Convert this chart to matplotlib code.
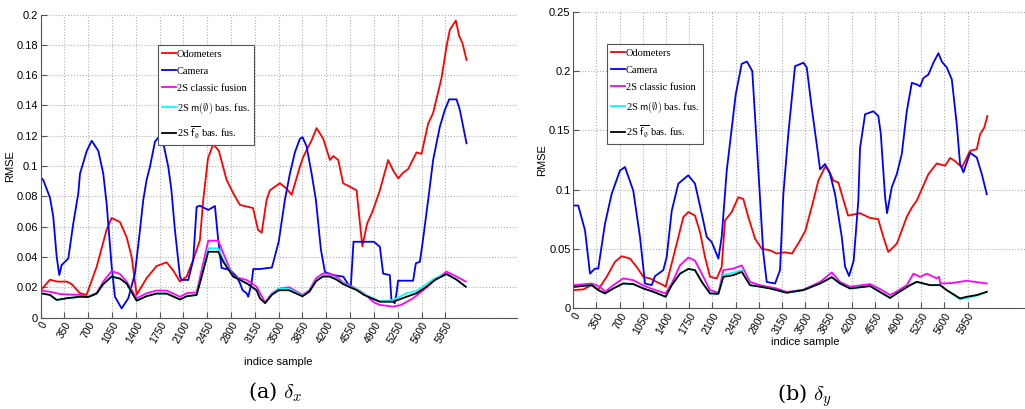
import numpy as np
import matplotlib
matplotlib.use('Agg')
import matplotlib.pyplot as plt

plt.rcParams['mathtext.fontset'] = 'cm'

# ---- (a) delta_x ----
ax_odo_x = [0, 137, 240, 385, 455, 578, 675, 823, 970, 1044, 1166, 1264, 1338, 1411, 1558, 1705, 1852, 1949, 2048, 2146,
            2243, 2341, 2390, 2460, 2537, 2620, 2734, 2832, 2930, 3122, 3196, 3250, 3322, 3371, 3518, 3616, 3690, 3812,
            3861, 3984, 4057, 4155, 4253, 4302, 4375, 4448, 4547, 4645, 4700, 4730, 4800, 4880, 4988, 5110, 5183, 5257,
            5330, 5404, 5527, 5600, 5698, 5771, 5894, 5968, 6017, 6105, 6153, 6203, 6262]
ax_odo_y = [0.018, 0.025, 0.0237, 0.0237, 0.022, 0.016, 0.015, 0.0335, 0.058, 0.0657, 0.063, 0.053, 0.040, 0.015, 0.026,
            0.034, 0.0364, 0.031, 0.0237, 0.027, 0.038, 0.051, 0.0775, 0.105, 0.1145, 0.11, 0.0908, 0.082, 0.0743, 0.0723,
            0.0578, 0.056, 0.0776, 0.084, 0.0887, 0.085, 0.081, 0.0995, 0.106, 0.117, 0.125, 0.118, 0.104, 0.1066, 0.104,
            0.0886, 0.0863, 0.084, 0.06, 0.047, 0.062, 0.07, 0.084, 0.104, 0.097, 0.0919, 0.0956, 0.098, 0.109, 0.108,
            0.128, 0.135, 0.158, 0.179, 0.19, 0.196, 0.186, 0.181, 0.170]

ax_cam_x = [0, 38, 137, 185, 235, 273, 308, 406, 480, 553, 578, 678, 750, 847, 920, 970, 1044, 1092, 1190, 1288, 1386,
            1460, 1508, 1558, 1607, 1680, 1729, 1803, 1876, 1920, 1974, 2048, 2072, 2170, 2243, 2293, 2341, 2464, 2562,
            2611, 2660, 2783, 2881, 2930, 2969, 3028, 3052, 3101, 3126, 3224, 3400, 3500, 3591, 3665, 3738, 3812, 3851,
            3910, 3984, 4047, 4120, 4180, 4300, 4450, 4520, 4560, 4600, 4750, 4900, 4988, 5036, 5134, 5158, 5207, 5232,
            5256, 5477, 5517, 5576, 5615, 5698, 5771, 5870, 5943, 6007, 6115, 6164, 6262]
ax_cam_y = [0.0926, 0.0907, 0.079, 0.0665, 0.040, 0.028, 0.0346, 0.039, 0.0623, 0.082, 0.095, 0.110, 0.1167, 0.110,
            0.095, 0.075, 0.0335, 0.0137, 0.006, 0.0127, 0.029, 0.0578, 0.0775, 0.091, 0.0995, 0.116, 0.1187, 0.115,
            0.0995, 0.085, 0.0578, 0.027, 0.0248, 0.0248, 0.038, 0.073, 0.0738, 0.071, 0.0736, 0.051, 0.0327, 0.0314,
            0.027, 0.0226, 0.018, 0.016, 0.0137, 0.0228, 0.032, 0.032, 0.033, 0.05, 0.0776, 0.095, 0.109, 0.118, 0.119,
            0.113, 0.095, 0.0776, 0.045, 0.03, 0.028, 0.027, 0.022, 0.02, 0.05, 0.05, 0.05, 0.0467, 0.029, 0.028, 0.0116,
            0.0094, 0.016, 0.0243, 0.0243, 0.0358, 0.0368, 0.049, 0.0776, 0.104, 0.126, 0.137, 0.144, 0.144, 0.137, 0.115]

ax_cls_x = [0, 137, 284, 578, 700, 823, 920, 1044, 1166, 1264, 1411, 1558, 1705, 1852, 2048, 2146, 2293, 2367, 2464,
            2611, 2685, 2832, 3028, 3175, 3300, 3400, 3500, 3650, 3850, 3950, 4050, 4150, 4250, 4350, 4450, 4600, 4750,
            4900, 4988, 5183, 5300, 5477, 5624, 5771, 5968, 6115, 6252]
ax_cls_y = [0.0177, 0.017, 0.0155, 0.0149, 0.0137, 0.0162, 0.0237, 0.0307, 0.0287, 0.0237, 0.0127, 0.016, 0.0178, 0.0178,
            0.0137, 0.016, 0.0166, 0.0314, 0.0507, 0.0507, 0.0424, 0.027, 0.0248, 0.0203, 0.01, 0.016, 0.019, 0.02, 0.015,
            0.018, 0.026, 0.029, 0.029, 0.027, 0.023, 0.02, 0.016, 0.01, 0.0083, 0.0072, 0.0083, 0.0127, 0.018, 0.0237,
            0.0303, 0.027, 0.0237]

ax_m_x = [0, 137, 235, 382, 578, 700, 823, 920, 1044, 1166, 1264, 1411, 1558, 1705, 1852, 2048, 2146, 2293, 2367, 2464,
          2611, 2685, 2832, 3028, 3175, 3224, 3300, 3400, 3500, 3650, 3850, 3950, 4050, 4150, 4250, 4350, 4450, 4550,
          4650, 4750, 4850, 4988, 5183, 5380, 5526, 5673, 5796, 5968, 6115, 6252]
ax_m_y = [0.016, 0.0149, 0.0116, 0.0127, 0.0137, 0.0135, 0.0158, 0.0221, 0.027, 0.0257, 0.0224, 0.0111, 0.0141, 0.0158,
          0.0158, 0.0119, 0.014, 0.0149, 0.027, 0.0457, 0.0457, 0.0383, 0.027, 0.0226, 0.018, 0.0127, 0.0098, 0.0155,
          0.019, 0.019, 0.0145, 0.0172, 0.0245, 0.0275, 0.0275, 0.0255, 0.0225, 0.0205, 0.0185, 0.0155, 0.0135, 0.0108,
          0.0115, 0.016, 0.0175, 0.022, 0.026, 0.0287, 0.025, 0.0203]

ax_f_x = [0, 137, 235, 382, 578, 700, 823, 920, 1044, 1166, 1264, 1411, 1558, 1705, 1852, 2048, 2146, 2293, 2367, 2464,
          2611, 2685, 2832, 3028, 3175, 3224, 3300, 3400, 3500, 3650, 3850, 3950, 4050, 4150, 4250, 4350, 4450, 4550,
          4650, 4750, 4850, 4988, 5183, 5380, 5526, 5673, 5796, 5968, 6115, 6252]
ax_f_y = [0.016, 0.0149, 0.0116, 0.0127, 0.0137, 0.0135, 0.0158, 0.0221, 0.027, 0.0257, 0.0224, 0.0111, 0.0141, 0.0158,
          0.0158, 0.0119, 0.014, 0.0149, 0.027, 0.0434, 0.0434, 0.0368, 0.027, 0.0226, 0.018, 0.0127, 0.0095, 0.015,
          0.018, 0.018, 0.014, 0.017, 0.024, 0.027, 0.027, 0.025, 0.022, 0.02, 0.018, 0.015, 0.013, 0.0104, 0.0104,
          0.0137, 0.016, 0.0203, 0.0248, 0.0287, 0.025, 0.0203]

# ---- (b) delta_y ----
ay_odo_x = [0, 151, 277, 377, 503, 629, 730, 856, 956, 1057, 1157, 1258, 1358, 1394, 1459, 1560, 1660, 1735, 1836, 1912,
            1987, 2063, 2164, 2239, 2289, 2390, 2490, 2565, 2641, 2742, 2843, 2968, 3069, 3200, 3300, 3400, 3500, 3622,
            3697, 3798, 3848, 3924, 3999, 4050, 4145, 4326, 4477, 4600, 4677, 4752, 4880, 4956, 5031, 5110, 5182, 5357,
            5483, 5609, 5684, 5760, 5861, 5911, 5986, 6087, 6137, 6198, 6247]
ay_odo_y = [0.0151, 0.0157, 0.0193, 0.0157, 0.0263, 0.039, 0.0437, 0.0417, 0.0347, 0.0263, 0.025, 0.022, 0.0193, 0.0179,
            0.032, 0.0543, 0.0767, 0.081, 0.078, 0.064, 0.043, 0.0263, 0.025, 0.0347, 0.0739, 0.081, 0.0935, 0.092,
            0.0767, 0.0585, 0.050, 0.0487, 0.046, 0.047, 0.046, 0.055, 0.065, 0.0907, 0.1075, 0.119, 0.117, 0.1075,
            0.106, 0.096, 0.078, 0.08, 0.076, 0.075, 0.06, 0.0473, 0.0543, 0.0655, 0.077, 0.085, 0.0907, 0.113, 0.122,
            0.12, 0.1266, 0.124, 0.1187, 0.124, 0.1327, 0.134, 0.1467, 0.152, 0.162]

ay_cam_x = [0, 75, 177, 252, 327, 377, 478, 579, 704, 780, 905, 1006, 1082, 1183, 1233, 1358, 1409, 1485, 1585, 1735,
            1836, 1938, 2013, 2088, 2189, 2239, 2315, 2450, 2540, 2620, 2700, 2792, 2867, 2918, 3044, 3119, 3169, 3244,
            3345, 3471, 3522, 3597, 3673, 3723, 3798, 3874, 3949, 4050, 4100, 4160, 4230, 4300, 4326, 4402, 4527, 4602,
            4639, 4704, 4733, 4805, 4880, 4956, 5031, 5107, 5182, 5232, 5282, 5357, 5433, 5508, 5559, 5634, 5710, 5785,
            5835, 5885, 5986, 6087, 6163, 6238]
ay_cam_y = [0.0865, 0.0865, 0.0655, 0.029, 0.0333, 0.0333, 0.071, 0.0963, 0.116, 0.119, 0.099, 0.060, 0.0207, 0.0193,
            0.0269, 0.032, 0.043, 0.082, 0.105, 0.112, 0.105, 0.0795, 0.06, 0.0557, 0.0417, 0.06, 0.116, 0.18, 0.206,
            0.208, 0.2, 0.116, 0.046, 0.022, 0.0207, 0.032, 0.096, 0.147, 0.204, 0.207, 0.203, 0.169, 0.138, 0.117,
            0.1215, 0.113, 0.096, 0.06, 0.035, 0.027, 0.04, 0.0907, 0.135, 0.1635, 0.166, 0.162, 0.147, 0.0935, 0.08,
            0.102, 0.113, 0.13, 0.166, 0.19, 0.1887, 0.187, 0.194, 0.197, 0.207, 0.215, 0.208, 0.203, 0.193, 0.155,
            0.1215, 0.1145, 0.131, 0.127, 0.113, 0.096]

ay_cls_x = [0, 277, 402, 478, 604, 754, 905, 1057, 1207, 1394, 1485, 1610, 1735, 1836, 1938, 2063, 2189, 2264, 2414,
            2541, 2666, 2817, 3069, 3220, 3471, 3723, 3899, 4024, 4175, 4477, 4628, 4779, 4880, 5031, 5131, 5232, 5333,
            5483, 5520, 5535, 5700, 5936, 6238]
ay_cls_y = [0.0193, 0.0207, 0.018, 0.0137, 0.0193, 0.025, 0.0235, 0.019, 0.0157, 0.0123, 0.0207, 0.036, 0.0426, 0.040,
            0.029, 0.0151, 0.0129, 0.032, 0.0333, 0.036, 0.022, 0.0193, 0.0165, 0.0135, 0.0155, 0.022, 0.03, 0.022, 0.018,
            0.0202, 0.016, 0.011, 0.014, 0.0193, 0.029, 0.0263, 0.029, 0.025, 0.0263, 0.0207, 0.021, 0.023, 0.0207]

ay_m_x = [0, 277, 377, 478, 604, 754, 905, 1057, 1207, 1394, 1485, 1610, 1735, 1836, 1938, 2063, 2189, 2264, 2414, 2541,
          2666, 2817, 2968, 3220, 3471, 3723, 3899, 4024, 4175, 4477, 4628, 4779, 4880, 5081, 5182, 5383, 5535, 5634,
          5835, 5936, 6087, 6238]
ay_m_y = [0.0178, 0.0193, 0.0151, 0.0123, 0.0165, 0.0207, 0.0202, 0.0165, 0.0137, 0.0095, 0.0193, 0.029, 0.033, 0.032,
          0.0221, 0.0123, 0.012, 0.028, 0.0297, 0.0319, 0.0193, 0.018, 0.0165, 0.0129, 0.0151, 0.0207, 0.026, 0.0207,
          0.0165, 0.0185, 0.0135, 0.0085, 0.0123, 0.0193, 0.0221, 0.0193, 0.0193, 0.0151, 0.0072, 0.0085, 0.0105, 0.0133]

ay_f_x = ay_m_x
ay_f_y = [0.0178, 0.0193, 0.0151, 0.0123, 0.0165, 0.0207, 0.0202, 0.0165, 0.0137, 0.0095, 0.0193, 0.029, 0.033, 0.032,
          0.0221, 0.0123, 0.012, 0.0263, 0.0277, 0.0305, 0.0193, 0.018, 0.0165, 0.0129, 0.0151, 0.0207, 0.026, 0.0207,
          0.0165, 0.0185, 0.0135, 0.0085, 0.0123, 0.0193, 0.0221, 0.0193, 0.0193, 0.0151, 0.0081, 0.0095, 0.0109, 0.0137]

labels = ['Odometers', 'Camera', '2S classic fusion', r'2S $\mathsf{m}(\emptyset)$ bas. fus.',
          r'2S $\overline{\mathsf{f}_\emptyset}$ bas. fus.']
colors = ['#ff0000', '#0000ff', '#ff00ff', '#00ffff', '#000000']
xticks = np.arange(0, 6000, 350)

fig = plt.figure(figsize=(10.25, 4.09), dpi=100)
axL = fig.add_axes([0.0397, 0.2237, 0.4644, 0.7408])
axR = fig.add_axes([0.5593, 0.2469, 0.4527, 0.7244])

def draw(ax, series, ymax, ystep, leg_xy, xpad):
    for (x, y), c, lab in zip(series, colors, labels):
        ax.plot(x, y, color=c, lw=1.3, label=lab)
    ax.set_xlim(0, 7000)
    ax.set_ylim(0, ymax)
    ax.set_xticks(xticks)
    ax.set_xticklabels([str(v) for v in xticks], rotation=60, ha='right', va='top',
                       rotation_mode='anchor', fontsize=7.5, family='Liberation Sans')
    yt = np.round(np.arange(0, ymax + 1e-9, ystep), 3)
    ax.set_yticks(yt)
    ax.set_yticklabels(['0'] + ['%g' % v for v in yt[1:]], fontsize=8, family='Liberation Sans')
    ax.grid(True, ls=':', color='#b0b0b0', lw=0.8)
    for s in ['top', 'right']:
        ax.spines[s].set_visible(False)
    for s in ['left', 'bottom']:
        ax.spines[s].set_color('#555555')
    ax.tick_params(direction='in', length=4, color='#555555', pad=2)
    ax.set_ylabel('RMSE', fontsize=8, family='Liberation Sans', labelpad=1)
    ax.set_xlabel('indice sample', fontsize=8, family='Liberation Sans', labelpad=xpad)
    leg = ax.legend(loc='upper left', bbox_to_anchor=leg_xy, fancybox=False, framealpha=1,
                    edgecolor='#555555', handlelength=1.3, handletextpad=0.1, labelspacing=0.75,
                    borderpad=0.4, prop={'family': 'Liberation Serif', 'size': 7.5})
    leg.get_frame().set_linewidth(0.8)

draw(axL, [(ax_odo_x, ax_odo_y), (ax_cam_x, ax_cam_y), (ax_cls_x, ax_cls_y), (ax_m_x, ax_m_y), (ax_f_x, ax_f_y)],
     0.2, 0.02, (0.236, 0.916), 8)
draw(axR, [(ay_odo_x, ay_odo_y), (ay_cam_x, ay_cam_y), (ay_cls_x, ay_cls_y), (ay_m_x, ay_m_y), (ay_f_x, ay_f_y)],
     0.25, 0.05, (0.062, 0.908), 1)

fig.text(0.268, 0.025, r'(a) $\delta_x$', fontsize=15, family='DejaVu Serif', ha='center')
fig.text(0.785, 0.02, r'(b) $\delta_y$', fontsize=15, family='DejaVu Serif', ha='center')

fig.savefig('out.png', dpi=100)
